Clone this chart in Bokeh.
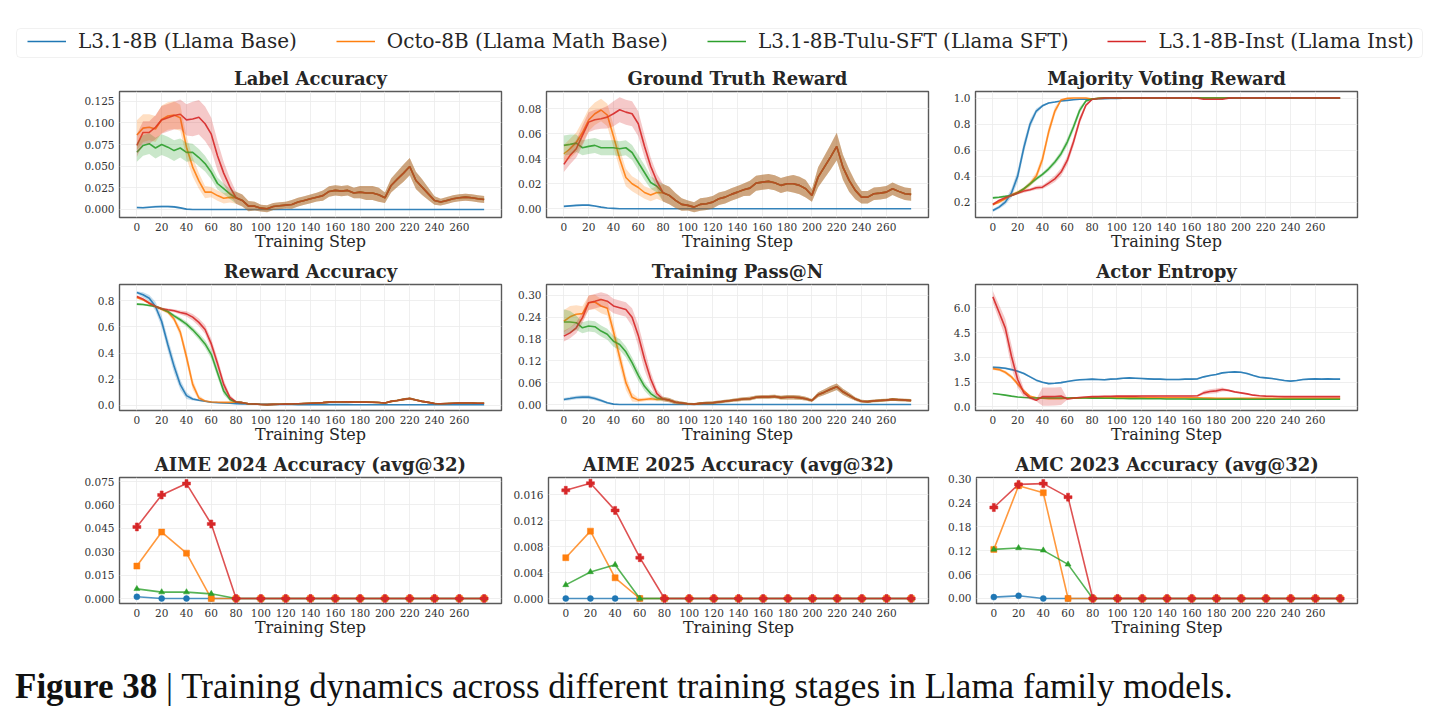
from bokeh.plotting import figure
from bokeh.models import Range1d, FixedTicker, PrintfTickFormatter, Legend, LegendItem, Div, BoxAnnotation
from bokeh.layouts import column, row
from bokeh.embed import file_html
from bokeh.resources import INLINE

# ---------------- data ----------------
SERIES_NAMES = ["L3.1-8B (Llama Base)", "Octo-8B (Llama Math Base)",
                "L3.1-8B-Tulu-SFT (Llama SFT)", "L3.1-8B-Inst (Llama Inst)"]
COLORS = ["#1f77b4", "#ff7f0e", "#2ca02c", "#d62728"]

STEPS = list(range(0, 281, 5))          # training steps sampled every 5
EVAL_STEPS = list(range(0, 281, 20))    # evaluation steps
XTICKS = list(range(0, 261, 20))

# ---- Label Accuracy ----
la_blue = [0.0022, 0.0020, 0.0026, 0.0032, 0.0034, 0.0034, 0.0030, 0.0018, 0.0004, 0.0,
           0.0, 0.0, 0.0, 0.0, 0.0, 0.0, 0.0, 0.0, 0.0, 0.0,
           0.0, 0.0, 0.0, 0.0, 0.0, 0.0, 0.0, 0.0, 0.0, 0.0,
           0.0, 0.0, 0.0, 0.0, 0.0, 0.0, 0.0, 0.0, 0.0, 0.0,
           0.0, 0.0, 0.0, 0.0, 0.0, 0.0, 0.0, 0.0, 0.0, 0.0,
           0.0, 0.0, 0.0, 0.0, 0.0, 0.0, 0.0]
la_blue_hw = [0.0010, 0.0010, 0.0012, 0.0013, 0.0013, 0.0013, 0.0012, 0.0010, 0.0005, 0.0,
              0.0, 0.0, 0.0, 0.0, 0.0, 0.0, 0.0, 0.0, 0.0, 0.0,
              0.0, 0.0, 0.0, 0.0, 0.0, 0.0, 0.0, 0.0, 0.0, 0.0,
              0.0, 0.0, 0.0, 0.0, 0.0, 0.0, 0.0, 0.0, 0.0, 0.0,
              0.0, 0.0, 0.0, 0.0, 0.0, 0.0, 0.0, 0.0, 0.0, 0.0,
              0.0, 0.0, 0.0, 0.0, 0.0, 0.0, 0.0]
la_orange_head = [0.086, 0.094, 0.095, 0.093, 0.104, 0.108, 0.109, 0.106, 0.072, 0.049,
                  0.033, 0.020, 0.020, 0.016, 0.013, 0.014]
la_orange_hw = [0.017, 0.016, 0.015, 0.015, 0.016, 0.016, 0.016, 0.015, 0.013, 0.011,
                0.009, 0.007, 0.006, 0.006, 0.006, 0.006]
la_green_head = [0.066, 0.074, 0.076, 0.071, 0.075, 0.072, 0.068, 0.071, 0.066, 0.066,
                 0.060, 0.053, 0.043, 0.030, 0.024, 0.018]
la_green_hw = [0.011, 0.012, 0.012, 0.012, 0.012, 0.012, 0.012, 0.011, 0.011, 0.010,
               0.010, 0.009, 0.008, 0.007, 0.006, 0.006]
la_red_head = [0.074, 0.089, 0.089, 0.095, 0.1035, 0.106, 0.1085, 0.110, 0.1035, 0.1045,
               0.1065, 0.099, 0.087, 0.062, 0.042, 0.026]
la_red_hw = [0.013, 0.013, 0.013, 0.014, 0.016, 0.016, 0.016, 0.017, 0.018, 0.020,
             0.020, 0.020, 0.019, 0.017, 0.013, 0.010]
la_tail = [0.0135, 0.0104, 0.0038, 0.0038, 0.0015, 0.0008, 0.0035, 0.0042, 0.0050, 0.0058,
           0.0085, 0.0104, 0.0123, 0.0142, 0.0160, 0.0208, 0.0220, 0.0212, 0.0220, 0.0190,
           0.0200, 0.0190, 0.0190, 0.0170, 0.0135, 0.0277, 0.0350, 0.0420, 0.0496, 0.0335,
           0.0258, 0.0180, 0.0104, 0.0085, 0.0104, 0.0123, 0.0135, 0.0142, 0.0135, 0.0123,
           0.0115]
la_tail_hw = [0.007, 0.007, 0.006, 0.005, 0.004, 0.004, 0.004, 0.004, 0.004, 0.005,
              0.005, 0.005, 0.005, 0.005, 0.006, 0.006, 0.006, 0.006, 0.006, 0.006,
              0.007, 0.008, 0.008, 0.008, 0.006, 0.008, 0.009, 0.010, 0.010, 0.010,
              0.009, 0.007, 0.005, 0.004, 0.004, 0.004, 0.004, 0.004, 0.004, 0.004,
              0.004]

# ---- Ground Truth Reward ----
gt_blue = [0.0019, 0.0023, 0.0027, 0.0029, 0.0029, 0.0022, 0.0013, 0.0006, 0.0003, 0.0,
           0.0, 0.0, 0.0, 0.0, 0.0, 0.0, 0.0, 0.0, 0.0, 0.0,
           0.0, 0.0, 0.0, 0.0, 0.0, 0.0, 0.0, 0.0, 0.0, 0.0,
           0.0, 0.0, 0.0, 0.0, 0.0, 0.0, 0.0, 0.0, 0.0, 0.0,
           0.0, 0.0, 0.0, 0.0, 0.0, 0.0, 0.0, 0.0, 0.0, 0.0,
           0.0, 0.0, 0.0, 0.0, 0.0, 0.0, 0.0]
gt_blue_hw = [0.0005, 0.0005, 0.0006, 0.0006, 0.0006, 0.0005, 0.0004, 0.0003, 0.0002, 0.0,
              0.0, 0.0, 0.0, 0.0, 0.0, 0.0, 0.0, 0.0, 0.0, 0.0,
              0.0, 0.0, 0.0, 0.0, 0.0, 0.0, 0.0, 0.0, 0.0, 0.0,
              0.0, 0.0, 0.0, 0.0, 0.0, 0.0, 0.0, 0.0, 0.0, 0.0,
              0.0, 0.0, 0.0, 0.0, 0.0, 0.0, 0.0, 0.0, 0.0, 0.0,
              0.0, 0.0, 0.0, 0.0, 0.0, 0.0, 0.0]
gt_orange_head = [0.044, 0.048, 0.053, 0.061, 0.071, 0.076, 0.079, 0.075, 0.058, 0.040,
                  0.025, 0.020, 0.017, 0.013, 0.011, 0.013]
gt_orange_hw = [0.007, 0.008, 0.008, 0.009, 0.009, 0.009, 0.009, 0.009, 0.009, 0.008,
                0.007, 0.006, 0.006, 0.005, 0.005, 0.005]
gt_green_head = [0.0507, 0.0515, 0.0525, 0.0488, 0.0499, 0.0507, 0.0488, 0.0488, 0.0488, 0.0480,
                 0.0488, 0.0450, 0.0370, 0.0290, 0.0210, 0.0180]
gt_green_hw = [0.008, 0.008, 0.007, 0.006, 0.006, 0.006, 0.006, 0.006, 0.006, 0.006,
               0.006, 0.006, 0.006, 0.006, 0.005, 0.005]
gt_red_head = [0.0355, 0.0427, 0.0480, 0.0587, 0.0693, 0.0712, 0.0720, 0.0733, 0.0760, 0.0792,
               0.0773, 0.0760, 0.0680, 0.0500, 0.0340, 0.0220]
gt_red_hw = [0.006, 0.007, 0.007, 0.008, 0.008, 0.008, 0.008, 0.009, 0.010, 0.010,
             0.010, 0.010, 0.010, 0.009, 0.007, 0.006]
gt_tail = [0.0128, 0.0107, 0.0067, 0.0035, 0.0027, 0.0013, 0.0035, 0.0040, 0.0053, 0.0080,
           0.0093, 0.0115, 0.0133, 0.0152, 0.0165, 0.0205, 0.0213, 0.0219, 0.0208, 0.0187,
           0.0200, 0.0200, 0.0187, 0.0160, 0.0107, 0.0253, 0.0333, 0.0413, 0.0499, 0.0333,
           0.0227, 0.0147, 0.0093, 0.0093, 0.0120, 0.0125, 0.0133, 0.0160, 0.0139, 0.0120,
           0.0115]
gt_tail_hw = [0.007, 0.007, 0.006, 0.005, 0.004, 0.004, 0.005, 0.005, 0.005, 0.005,
              0.005, 0.005, 0.005, 0.005, 0.006, 0.006, 0.006, 0.006, 0.006, 0.006,
              0.006, 0.007, 0.007, 0.007, 0.005, 0.008, 0.009, 0.010, 0.011, 0.010,
              0.009, 0.007, 0.005, 0.005, 0.005, 0.005, 0.005, 0.005, 0.005, 0.005,
              0.005]

# ---- Majority Voting Reward ----
mv_blue = [0.136, 0.162, 0.200, 0.270, 0.400, 0.620, 0.800, 0.900, 0.940, 0.962,
           0.969, 0.977, 0.982, 0.987, 0.990, 0.990, 0.992, 0.994, 0.995, 0.996,
           0.997, 0.998, 0.999, 0.999, 1.0, 1.0, 1.0, 1.0, 1.0, 1.0,
           1.0, 1.0, 1.0, 1.0, 1.0, 1.0, 1.0, 1.0, 1.0, 1.0,
           1.0, 1.0, 1.0, 1.0, 1.0, 1.0, 1.0, 1.0, 1.0, 1.0,
           1.0, 1.0, 1.0, 1.0, 1.0, 1.0, 1.0]
mv_blue_hw = [0.012, 0.015, 0.020, 0.035, 0.045, 0.045, 0.035, 0.020, 0.010, 0.006,
              0.005, 0.004, 0.003, 0.003, 0.002, 0.002, 0.002, 0.002, 0.002, 0.002,
              0.001, 0.001, 0.001, 0.001, 0.001, 0.001, 0.001, 0.001, 0.001, 0.001,
              0.001, 0.001, 0.001, 0.001, 0.001, 0.001, 0.001, 0.001, 0.001, 0.001,
              0.001, 0.001, 0.001, 0.001, 0.001, 0.001, 0.001, 0.001, 0.001, 0.001,
              0.001, 0.001, 0.001, 0.001, 0.001, 0.001, 0.001]
mv_orange_head = [0.182, 0.200, 0.226, 0.256, 0.277, 0.300, 0.340, 0.400, 0.530, 0.740,
                  0.900, 0.985, 0.997, 1.0, 1.0, 1.0]
mv_orange_hw = [0.010, 0.010, 0.010, 0.010, 0.012, 0.015, 0.020, 0.030, 0.040, 0.040,
                0.030, 0.010, 0.004, 0.002, 0.002, 0.002]
mv_green_head = [0.233, 0.238, 0.244, 0.251, 0.272, 0.303, 0.341, 0.379, 0.413, 0.456,
                 0.508, 0.572, 0.662, 0.777, 0.905, 0.977]
mv_green_hw = [0.008, 0.008, 0.008, 0.008, 0.010, 0.012, 0.015, 0.015, 0.015, 0.018,
               0.020, 0.025, 0.030, 0.030, 0.025, 0.010]
mv_red_head = [0.182, 0.213, 0.233, 0.251, 0.269, 0.285, 0.295, 0.310, 0.315, 0.346,
               0.379, 0.431, 0.520, 0.662, 0.828, 0.944]
mv_red_hw = [0.010, 0.010, 0.010, 0.010, 0.010, 0.012, 0.012, 0.015, 0.015, 0.020,
             0.025, 0.030, 0.035, 0.035, 0.030, 0.015]
mv_tail = [0.992, 0.997, 0.999, 1.0, 1.0, 1.0, 1.0, 1.0, 1.0, 1.0,
           1.0, 1.0, 1.0, 1.0, 1.0, 1.0, 1.0, 1.0, 1.0, 1.0,
           1.0, 1.0, 1.0, 1.0, 1.0, 1.0, 1.0, 1.0, 1.0, 1.0,
           1.0, 1.0, 1.0, 1.0, 1.0, 1.0, 1.0, 1.0, 1.0, 1.0,
           1.0]
mv_red_tail = [0.990, 0.996, 0.999, 1.0, 1.0, 1.0, 1.0, 1.0, 1.0, 1.0,
               1.0, 1.0, 1.0, 1.0, 1.0, 1.0, 1.0, 0.999, 0.990, 0.990,
               0.990, 0.990, 0.999, 1.0, 1.0, 1.0, 1.0, 1.0, 1.0, 1.0,
               1.0, 1.0, 1.0, 1.0, 1.0, 1.0, 1.0, 1.0, 1.0, 1.0,
               1.0]
mv_tail_hw = [0.006, 0.003, 0.002, 0.001, 0.001, 0.001, 0.001, 0.001, 0.001, 0.001,
              0.001, 0.001, 0.001, 0.001, 0.001, 0.001, 0.001, 0.001, 0.004, 0.004,
              0.004, 0.004, 0.001, 0.001, 0.001, 0.001, 0.001, 0.001, 0.001, 0.001,
              0.001, 0.001, 0.001, 0.001, 0.001, 0.001, 0.001, 0.001, 0.001, 0.001,
              0.001]

# ---- Reward Accuracy ----
ra_blue = [0.864, 0.846, 0.820, 0.757, 0.642, 0.464, 0.298, 0.158, 0.074, 0.048,
           0.038, 0.031, 0.023, 0.020, 0.018, 0.015, 0.013, 0.011, 0.010, 0.009,
           0.008, 0.007, 0.006, 0.006, 0.006, 0.006, 0.005, 0.005, 0.005, 0.005,
           0.005, 0.005, 0.005, 0.005, 0.005, 0.004, 0.004, 0.004, 0.004, 0.004,
           0.004, 0.004, 0.004, 0.004, 0.004, 0.004, 0.004, 0.004, 0.004, 0.004,
           0.004, 0.004, 0.004, 0.004, 0.004, 0.004, 0.004]
ra_blue_hw = [0.010, 0.020, 0.025, 0.035, 0.045, 0.050, 0.050, 0.040, 0.025, 0.012,
              0.008, 0.005, 0.004, 0.003, 0.003, 0.002, 0.002, 0.002, 0.002, 0.002,
              0.002, 0.002, 0.002, 0.002, 0.002, 0.002, 0.002, 0.002, 0.002, 0.002,
              0.002, 0.002, 0.002, 0.002, 0.002, 0.002, 0.002, 0.002, 0.002, 0.002,
              0.002, 0.002, 0.002, 0.002, 0.002, 0.002, 0.002, 0.002, 0.002, 0.002,
              0.002, 0.002, 0.002, 0.002, 0.002, 0.002, 0.002]
ra_orange_head = [0.825, 0.808, 0.782, 0.757, 0.736, 0.715, 0.660, 0.560, 0.370, 0.160,
                  0.056, 0.033, 0.025, 0.023, 0.022, 0.022]
ra_orange_hw = [0.010, 0.010, 0.010, 0.010, 0.012, 0.015, 0.020, 0.035, 0.045, 0.040,
                0.020, 0.008, 0.005, 0.004, 0.004, 0.004]
ra_green_head = [0.775, 0.772, 0.764, 0.757, 0.739, 0.718, 0.685, 0.655, 0.622, 0.578,
                 0.527, 0.470, 0.390, 0.250, 0.110, 0.045]
ra_green_hw = [0.008, 0.008, 0.008, 0.008, 0.010, 0.012, 0.015, 0.018, 0.020, 0.022,
               0.025, 0.030, 0.035, 0.035, 0.030, 0.015]
ra_red_head = [0.833, 0.813, 0.782, 0.757, 0.739, 0.731, 0.724, 0.711, 0.700, 0.675,
               0.635, 0.580, 0.470, 0.320, 0.160, 0.060]
ra_red_hw = [0.010, 0.010, 0.010, 0.010, 0.010, 0.010, 0.012, 0.015, 0.020, 0.025,
             0.030, 0.035, 0.040, 0.040, 0.035, 0.020]
ra_tail = [0.025, 0.020, 0.012, 0.010, 0.006, 0.005, 0.007, 0.008, 0.009, 0.010,
           0.012, 0.014, 0.016, 0.018, 0.020, 0.024, 0.025, 0.025, 0.026, 0.024,
           0.025, 0.024, 0.023, 0.021, 0.017, 0.030, 0.037, 0.045, 0.052, 0.040,
           0.030, 0.022, 0.014, 0.012, 0.014, 0.016, 0.017, 0.018, 0.017, 0.016,
           0.015]
ra_tail_hw = [0.008, 0.007, 0.006, 0.005, 0.004, 0.004, 0.004, 0.004, 0.004, 0.004,
              0.004, 0.005, 0.005, 0.005, 0.005, 0.006, 0.006, 0.006, 0.006, 0.006,
              0.007, 0.007, 0.007, 0.006, 0.005, 0.007, 0.008, 0.009, 0.009, 0.008,
              0.007, 0.006, 0.005, 0.004, 0.004, 0.004, 0.004, 0.004, 0.004, 0.004,
              0.004]

# ---- Training Pass@N ----
pn_blue = [0.0138, 0.0165, 0.0193, 0.0202, 0.0202, 0.0165, 0.0110, 0.0046, 0.0010, 0.0,
           0.0, 0.0, 0.0, 0.0, 0.0, 0.0, 0.0, 0.0, 0.0, 0.0,
           0.0, 0.0, 0.0, 0.0, 0.0, 0.0, 0.0, 0.0, 0.0, 0.0,
           0.0, 0.0, 0.0, 0.0, 0.0, 0.0, 0.0, 0.0, 0.0, 0.0,
           0.0, 0.0, 0.0, 0.0, 0.0, 0.0, 0.0, 0.0, 0.0, 0.0,
           0.0, 0.0, 0.0, 0.0, 0.0, 0.0, 0.0]
pn_blue_hw = [0.004, 0.005, 0.005, 0.005, 0.005, 0.005, 0.004, 0.003, 0.001, 0.0,
              0.0, 0.0, 0.0, 0.0, 0.0, 0.0, 0.0, 0.0, 0.0, 0.0,
              0.0, 0.0, 0.0, 0.0, 0.0, 0.0, 0.0, 0.0, 0.0, 0.0,
              0.0, 0.0, 0.0, 0.0, 0.0, 0.0, 0.0, 0.0, 0.0, 0.0,
              0.0, 0.0, 0.0, 0.0, 0.0, 0.0, 0.0, 0.0, 0.0, 0.0,
              0.0, 0.0, 0.0, 0.0, 0.0, 0.0, 0.0]
pn_orange_head = [0.229, 0.241, 0.248, 0.250, 0.280, 0.282, 0.271, 0.265, 0.200, 0.130,
                  0.060, 0.020, 0.012, 0.0138, 0.0156, 0.0138]
pn_orange_hw = [0.030, 0.030, 0.025, 0.020, 0.020, 0.020, 0.020, 0.020, 0.025, 0.025,
                0.020, 0.012, 0.006, 0.005, 0.005, 0.005]
pn_green_head = [0.227, 0.227, 0.225, 0.211, 0.216, 0.214, 0.202, 0.193, 0.174, 0.165,
                 0.145, 0.115, 0.080, 0.050, 0.030, 0.018]
pn_green_hw = [0.035, 0.030, 0.020, 0.015, 0.015, 0.015, 0.015, 0.015, 0.015, 0.015,
               0.015, 0.015, 0.015, 0.012, 0.010, 0.007]
pn_red_head = [0.188, 0.197, 0.211, 0.239, 0.280, 0.284, 0.289, 0.284, 0.271, 0.266,
               0.261, 0.240, 0.190, 0.125, 0.070, 0.030]
pn_red_hw = [0.015, 0.015, 0.015, 0.015, 0.020, 0.020, 0.020, 0.020, 0.020, 0.020,
             0.020, 0.025, 0.030, 0.030, 0.020, 0.012]
pn_tail = [0.015, 0.012, 0.006, 0.004, 0.002, 0.001, 0.003, 0.004, 0.005, 0.007,
           0.009, 0.011, 0.013, 0.015, 0.016, 0.020, 0.021, 0.021, 0.022, 0.019,
           0.020, 0.020, 0.019, 0.016, 0.011, 0.027, 0.034, 0.042, 0.049, 0.035,
           0.025, 0.015, 0.009, 0.008, 0.010, 0.011, 0.012, 0.014, 0.013, 0.012,
           0.011]
pn_tail_hw = [0.006, 0.006, 0.005, 0.004, 0.003, 0.003, 0.003, 0.004, 0.004, 0.004,
              0.004, 0.004, 0.005, 0.005, 0.005, 0.005, 0.005, 0.005, 0.005, 0.005,
              0.006, 0.006, 0.006, 0.005, 0.004, 0.007, 0.008, 0.009, 0.009, 0.008,
              0.007, 0.005, 0.004, 0.004, 0.004, 0.004, 0.004, 0.004, 0.004, 0.004,
              0.004]

# ---- Actor Entropy ----
ae_blue = [2.40, 2.38, 2.34, 2.26, 2.16, 2.02, 1.82, 1.62, 1.49, 1.41,
           1.43, 1.47, 1.54, 1.60, 1.64, 1.66, 1.68, 1.66, 1.64, 1.68,
           1.70, 1.74, 1.76, 1.74, 1.72, 1.70, 1.68, 1.68, 1.66, 1.66,
           1.66, 1.68, 1.68, 1.70, 1.82, 1.90, 1.96, 2.06, 2.10, 2.12,
           2.10, 2.02, 1.90, 1.80, 1.76, 1.72, 1.66, 1.60, 1.56, 1.60,
           1.66, 1.68, 1.70, 1.68, 1.70, 1.68, 1.68]
ae_blue_hw = [0.06, 0.06, 0.06, 0.06, 0.06, 0.06, 0.06, 0.06, 0.05, 0.05,
              0.05, 0.05, 0.05, 0.05, 0.05, 0.05, 0.05, 0.05, 0.05, 0.05,
              0.05, 0.05, 0.05, 0.05, 0.05, 0.05, 0.05, 0.05, 0.05, 0.05,
              0.05, 0.05, 0.05, 0.05, 0.05, 0.05, 0.05, 0.05, 0.05, 0.05,
              0.05, 0.05, 0.05, 0.05, 0.05, 0.05, 0.05, 0.05, 0.05, 0.05,
              0.05, 0.05, 0.05, 0.05, 0.05, 0.05, 0.05]
ae_orange = [2.32, 2.26, 2.10, 1.82, 1.39, 0.95, 0.65, 0.55, 0.52, 0.50,
             0.50, 0.50, 0.52, 0.53, 0.54, 0.55, 0.56, 0.56, 0.56, 0.56,
             0.56, 0.56, 0.56, 0.56, 0.56, 0.56, 0.56, 0.55, 0.55, 0.55,
             0.55, 0.55, 0.55, 0.55, 0.54, 0.53, 0.52, 0.52, 0.52, 0.52,
             0.52, 0.52, 0.52, 0.52, 0.52, 0.52, 0.52, 0.52, 0.52, 0.52,
             0.52, 0.52, 0.52, 0.52, 0.52, 0.52, 0.52]
ae_orange_hw = [0.08, 0.08, 0.10, 0.12, 0.12, 0.10, 0.06, 0.04, 0.03, 0.03,
                0.03, 0.03, 0.03, 0.03, 0.03, 0.03, 0.03, 0.03, 0.03, 0.03,
                0.03, 0.03, 0.03, 0.03, 0.03, 0.03, 0.03, 0.03, 0.03, 0.03,
                0.03, 0.03, 0.03, 0.03, 0.03, 0.03, 0.03, 0.03, 0.03, 0.03,
                0.03, 0.03, 0.03, 0.03, 0.03, 0.03, 0.03, 0.03, 0.03, 0.03,
                0.03, 0.03, 0.03, 0.03, 0.03, 0.03, 0.03]
ae_green = [0.81, 0.77, 0.71, 0.65, 0.60, 0.57, 0.55, 0.54, 0.54, 0.54,
            0.54, 0.54, 0.54, 0.54, 0.54, 0.54, 0.53, 0.53, 0.52, 0.52,
            0.51, 0.51, 0.50, 0.50, 0.50, 0.49, 0.49, 0.49, 0.48, 0.48,
            0.48, 0.48, 0.47, 0.47, 0.47, 0.46, 0.46, 0.46, 0.46, 0.47,
            0.47, 0.46, 0.46, 0.46, 0.46, 0.46, 0.46, 0.46, 0.46, 0.46,
            0.46, 0.46, 0.46, 0.46, 0.46, 0.46, 0.46]
ae_green_hw = [0.03, 0.03, 0.03, 0.03, 0.03, 0.03, 0.03, 0.03, 0.03, 0.03,
               0.03, 0.03, 0.03, 0.03, 0.03, 0.03, 0.03, 0.03, 0.03, 0.03,
               0.03, 0.03, 0.03, 0.03, 0.03, 0.03, 0.03, 0.03, 0.03, 0.03,
               0.03, 0.03, 0.03, 0.03, 0.03, 0.03, 0.03, 0.03, 0.03, 0.03,
               0.03, 0.03, 0.03, 0.03, 0.03, 0.03, 0.03, 0.03, 0.03, 0.03,
               0.03, 0.03, 0.03, 0.03, 0.03, 0.03, 0.03]
ae_red = [6.67, 5.74, 4.79, 3.07, 1.66, 0.85, 0.55, 0.40, 0.62, 0.62,
          0.63, 0.66, 0.48, 0.53, 0.57, 0.60, 0.62, 0.63, 0.64, 0.64,
          0.65, 0.65, 0.65, 0.65, 0.66, 0.66, 0.66, 0.66, 0.66, 0.66,
          0.66, 0.66, 0.66, 0.67, 0.85, 0.93, 0.97, 1.05, 1.00, 0.91,
          0.85, 0.79, 0.71, 0.67, 0.65, 0.64, 0.63, 0.62, 0.62, 0.62,
          0.62, 0.62, 0.62, 0.62, 0.62, 0.62, 0.62]
ae_red_hw = [0.35, 0.45, 0.55, 0.70, 0.50, 0.25, 0.10, 0.06, 0.55, 0.55,
             0.55, 0.55, 0.05, 0.04, 0.04, 0.04, 0.04, 0.04, 0.04, 0.04,
             0.04, 0.04, 0.04, 0.04, 0.04, 0.04, 0.04, 0.04, 0.04, 0.04,
             0.04, 0.04, 0.04, 0.05, 0.12, 0.14, 0.15, 0.12, 0.06, 0.04,
             0.04, 0.04, 0.04, 0.04, 0.04, 0.04, 0.04, 0.04, 0.04, 0.04,
             0.04, 0.04, 0.04, 0.04, 0.04, 0.04, 0.04]

# ---- Evaluation accuracies (avg@32) ----
aime24_blue = [0.0011, 0.0, 0.0, 0.0, 0.0, 0.0, 0.0, 0.0, 0.0, 0.0, 0.0, 0.0, 0.0, 0.0, 0.0]
aime24_orange = [0.0208, 0.0426, 0.0291, 0.0, 0.0, 0.0, 0.0, 0.0, 0.0, 0.0, 0.0, 0.0, 0.0, 0.0, 0.0]
aime24_green = [0.0062, 0.0041, 0.0041, 0.0030, 0.0, 0.0, 0.0, 0.0, 0.0, 0.0, 0.0, 0.0, 0.0, 0.0, 0.0]
aime24_red = [0.0459, 0.0664, 0.0737, 0.0478, 0.0, 0.0, 0.0, 0.0, 0.0, 0.0, 0.0, 0.0, 0.0, 0.0, 0.0]

aime25_blue = [0.0, 0.0, 0.0, 0.0, 0.0, 0.0, 0.0, 0.0, 0.0, 0.0, 0.0, 0.0, 0.0, 0.0, 0.0]
aime25_orange = [0.0063, 0.0104, 0.0032, 0.0, 0.0, 0.0, 0.0, 0.0, 0.0, 0.0, 0.0, 0.0, 0.0, 0.0, 0.0]
aime25_green = [0.0021, 0.0041, 0.0052, 0.0, 0.0, 0.0, 0.0, 0.0, 0.0, 0.0, 0.0, 0.0, 0.0, 0.0, 0.0]
aime25_red = [0.0167, 0.0178, 0.0136, 0.0063, 0.0, 0.0, 0.0, 0.0, 0.0, 0.0, 0.0, 0.0, 0.0, 0.0, 0.0]

amc_blue = [0.0034, 0.0067, 0.0, 0.0, 0.0, 0.0, 0.0, 0.0, 0.0, 0.0, 0.0, 0.0, 0.0, 0.0, 0.0]
amc_orange = [0.123, 0.2825, 0.265, 0.0, 0.0, 0.0, 0.0, 0.0, 0.0, 0.0, 0.0, 0.0, 0.0, 0.0, 0.0]
amc_green = [0.123, 0.1266, 0.1207, 0.0855, 0.0, 0.0, 0.0, 0.0, 0.0, 0.0, 0.0, 0.0, 0.0, 0.0, 0.0]
amc_red = [0.228, 0.286, 0.288, 0.254, 0.0, 0.0, 0.0, 0.0, 0.0, 0.0, 0.0, 0.0, 0.0, 0.0, 0.0]

# ---------------- styling / layout ----------------
SERIF = "DejaVu Serif"
ROW_H = 193
FRAME_TOP, FRAME_BOTTOM = 28, 39
COLS = [(119, 9, 510), (36, 17, 435), (30, 75, 487)]   # (left border, right border, width)


def make_panel(title, y0, y1, yticks, fmt, col):
    left, right, width = COLS[col]
    p = figure(width=width, height=ROW_H, x_range=Range1d(-14, 294), y_range=Range1d(y0, y1),
               output_backend="svg", toolbar_location=None,
               min_border_left=left, min_border_right=right,
               min_border_top=FRAME_TOP, min_border_bottom=FRAME_BOTTOM,
               background_fill_color="white", border_fill_color="white")
    p.title.text = title
    p.title.align = "center"
    p.title.text_font = SERIF
    p.title.text_font_size = "18px"
    p.title.text_font_style = "bold"
    p.title.text_color = "#262626"
    p.title.standoff = 5
    p.xaxis.ticker = FixedTicker(ticks=XTICKS)
    p.yaxis.ticker = FixedTicker(ticks=yticks)
    p.yaxis.formatter = PrintfTickFormatter(format=fmt)
    for ax in (p.xaxis[0], p.yaxis[0]):
        ax.major_label_text_font = SERIF
        ax.major_label_text_font_size = "10.5px"
        ax.major_label_text_color = "#333333"
        ax.axis_line_color = None
        ax.major_tick_line_color = None
        ax.minor_tick_line_color = None
        ax.major_tick_out = 0
        ax.major_tick_in = 0
        ax.minor_tick_out = 0
        ax.major_label_standoff = 5
    p.xaxis.axis_label = "Training Step"
    p.xaxis.axis_label_text_font = SERIF
    p.xaxis.axis_label_text_font_size = "16px"
    p.xaxis.axis_label_text_font_style = "normal"
    p.xaxis.axis_label_text_color = "#262626"
    p.xaxis.axis_label_standoff = -2
    p.grid.grid_line_color = "#ebebeb"
    p.grid.grid_line_width = 0.8
    p.outline_line_color = "#5a5a5a"
    p.outline_line_width = 1.4
    return p


def add_timeseries(p, series):
    for color, ys, hw in series:
        p.line(STEPS, ys, line_color=color, line_width=1.6, line_alpha=0.9)
    for color, ys, hw in series:
        lo = [a - b for a, b in zip(ys, hw)]
        hi = [a + b for a, b in zip(ys, hw)]
        p.varea(x=STEPS, y1=lo, y2=hi, fill_color=color, fill_alpha=0.25)


MARKERS = [("circle", 6), ("square", 6), ("triangle", 6), ("plus", 8)]


def add_eval(p, series):
    for (color, ys), (marker, size) in zip(series, MARKERS):
        p.line(EVAL_STEPS, ys, line_color=color, line_width=1.6, line_alpha=0.8)
        p.scatter(EVAL_STEPS, ys, marker=marker, size=size, fill_color=color,
                  line_color=color, line_width=0.5)


B, O, G, R = COLORS

p_la = make_panel("Label Accuracy", -0.0093, 0.1363,
                  [0, 0.025, 0.05, 0.075, 0.1, 0.125], "%.3f", 0)
add_timeseries(p_la, [(B, la_blue, la_blue_hw),
                      (O, la_orange_head + la_tail, la_orange_hw + la_tail_hw),
                      (G, la_green_head + la_tail, la_green_hw + la_tail_hw),
                      (R, la_red_head + la_tail, la_red_hw + la_tail_hw)])

p_gt = make_panel("Ground Truth Reward", -0.007, 0.0938,
                  [0, 0.02, 0.04, 0.06, 0.08], "%.2f", 1)
add_timeseries(p_gt, [(B, gt_blue, gt_blue_hw),
                      (O, gt_orange_head + gt_tail, gt_orange_hw + gt_tail_hw),
                      (G, gt_green_head + gt_tail, gt_green_hw + gt_tail_hw),
                      (R, gt_red_head + gt_tail, gt_red_hw + gt_tail_hw)])

p_mv = make_panel("Majority Voting Reward", 0.082, 1.05,
                  [0.2, 0.4, 0.6, 0.8, 1.0], "%.1f", 2)
add_timeseries(p_mv, [(B, mv_blue, mv_blue_hw),
                      (O, mv_orange_head + mv_tail, mv_orange_hw + mv_tail_hw),
                      (G, mv_green_head + mv_tail, mv_green_hw + mv_tail_hw),
                      (R, mv_red_head + mv_red_tail, mv_red_hw + mv_tail_hw)])

p_ra = make_panel("Reward Accuracy", -0.04, 0.925,
                  [0, 0.2, 0.4, 0.6, 0.8], "%.1f", 0)
add_timeseries(p_ra, [(B, ra_blue, ra_blue_hw),
                      (O, ra_orange_head + ra_tail, ra_orange_hw + ra_tail_hw),
                      (G, ra_green_head + ra_tail, ra_green_hw + ra_tail_hw),
                      (R, ra_red_head + ra_tail, ra_red_hw + ra_tail_hw)])

p_pn = make_panel("Training Pass@N", -0.0165, 0.330,
                  [0, 0.06, 0.12, 0.18, 0.24, 0.30], "%.2f", 1)
add_timeseries(p_pn, [(B, pn_blue, pn_blue_hw),
                      (O, pn_orange_head + pn_tail, pn_orange_hw + pn_tail_hw),
                      (G, pn_green_head + pn_tail, pn_green_hw + pn_tail_hw),
                      (R, pn_red_head + pn_tail, pn_red_hw + pn_tail_hw)])

p_ae = make_panel("Actor Entropy", -0.22, 7.42,
                  [0, 1.5, 3.0, 4.5, 6.0], "%.1f", 2)
add_timeseries(p_ae, [(B, ae_blue, ae_blue_hw), (O, ae_orange, ae_orange_hw),
                      (G, ae_green, ae_green_hw), (R, ae_red, ae_red_hw)])

p_a24 = make_panel("AIME 2024 Accuracy (avg@32)", -0.0032, 0.0776,
                   [0, 0.015, 0.03, 0.045, 0.06, 0.075], "%.3f", 0)
add_eval(p_a24, [(B, aime24_blue), (O, aime24_orange), (G, aime24_green), (R, aime24_red)])

p_a25 = make_panel("AIME 2025 Accuracy (avg@32)", -0.00077, 0.01868,
                   [0, 0.004, 0.008, 0.012, 0.016], "%.3f", 1)
add_eval(p_a25, [(B, aime25_blue), (O, aime25_orange), (G, aime25_green), (R, aime25_red)])

p_amc = make_panel("AMC 2023 Accuracy (avg@32)", -0.0126, 0.3033,
                   [0, 0.06, 0.12, 0.18, 0.24, 0.30], "%.2f", 2)
add_eval(p_amc, [(B, amc_blue), (O, amc_orange), (G, amc_green), (R, amc_red)])

# ---- legend strip (pixel-unit ranges) ----
leg = figure(width=1432, height=63, output_backend="svg", toolbar_location=None,
             min_border=0, x_range=Range1d(0, 1432), y_range=Range1d(0, 63),
             border_fill_color="white")
leg.axis.visible = False
leg.grid.visible = False
leg.outline_line_color = None
leg.add_layout(BoxAnnotation(left=16, right=1422, bottom=6, top=35,
                             fill_alpha=0, line_color="#d0d0d0", line_width=1,
                             border_radius=4))
items = []
for name, color in zip(SERIES_NAMES, COLORS):
    r = leg.line(x=[0], y=[float("nan")], line_color=color, line_width=1.6)
    items.append(LegendItem(label=name, renderers=[r]))
legend = Legend(items=items, orientation="horizontal", location=(27, 10),
                label_text_font=SERIF, label_text_font_size="20px",
                label_text_color="#262626", glyph_width=39, glyph_height=20,
                label_standoff=12, spacing=39, padding=5, margin=0,
                border_line_color=None, background_fill_alpha=0)
leg.add_layout(legend)

caption = Div(text="<b>Figure 38</b> | Training dynamics across different training stages in Llama family models.",
              width=1432, height=77,
              styles={"font-family": "Liberation Serif", "font-size": "35px", "color": "#111111",
                      "padding-left": "10px", "padding-top": "22px", "line-height": "1",
                      "white-space": "nowrap", "box-sizing": "border-box"})

layout = column(leg,
                row(p_la, p_gt, p_mv),
                row(p_ra, p_pn, p_ae),
                row(p_a24, p_a25, p_amc),
                caption)

open("out.html", "w").write(file_html(layout, INLINE))
